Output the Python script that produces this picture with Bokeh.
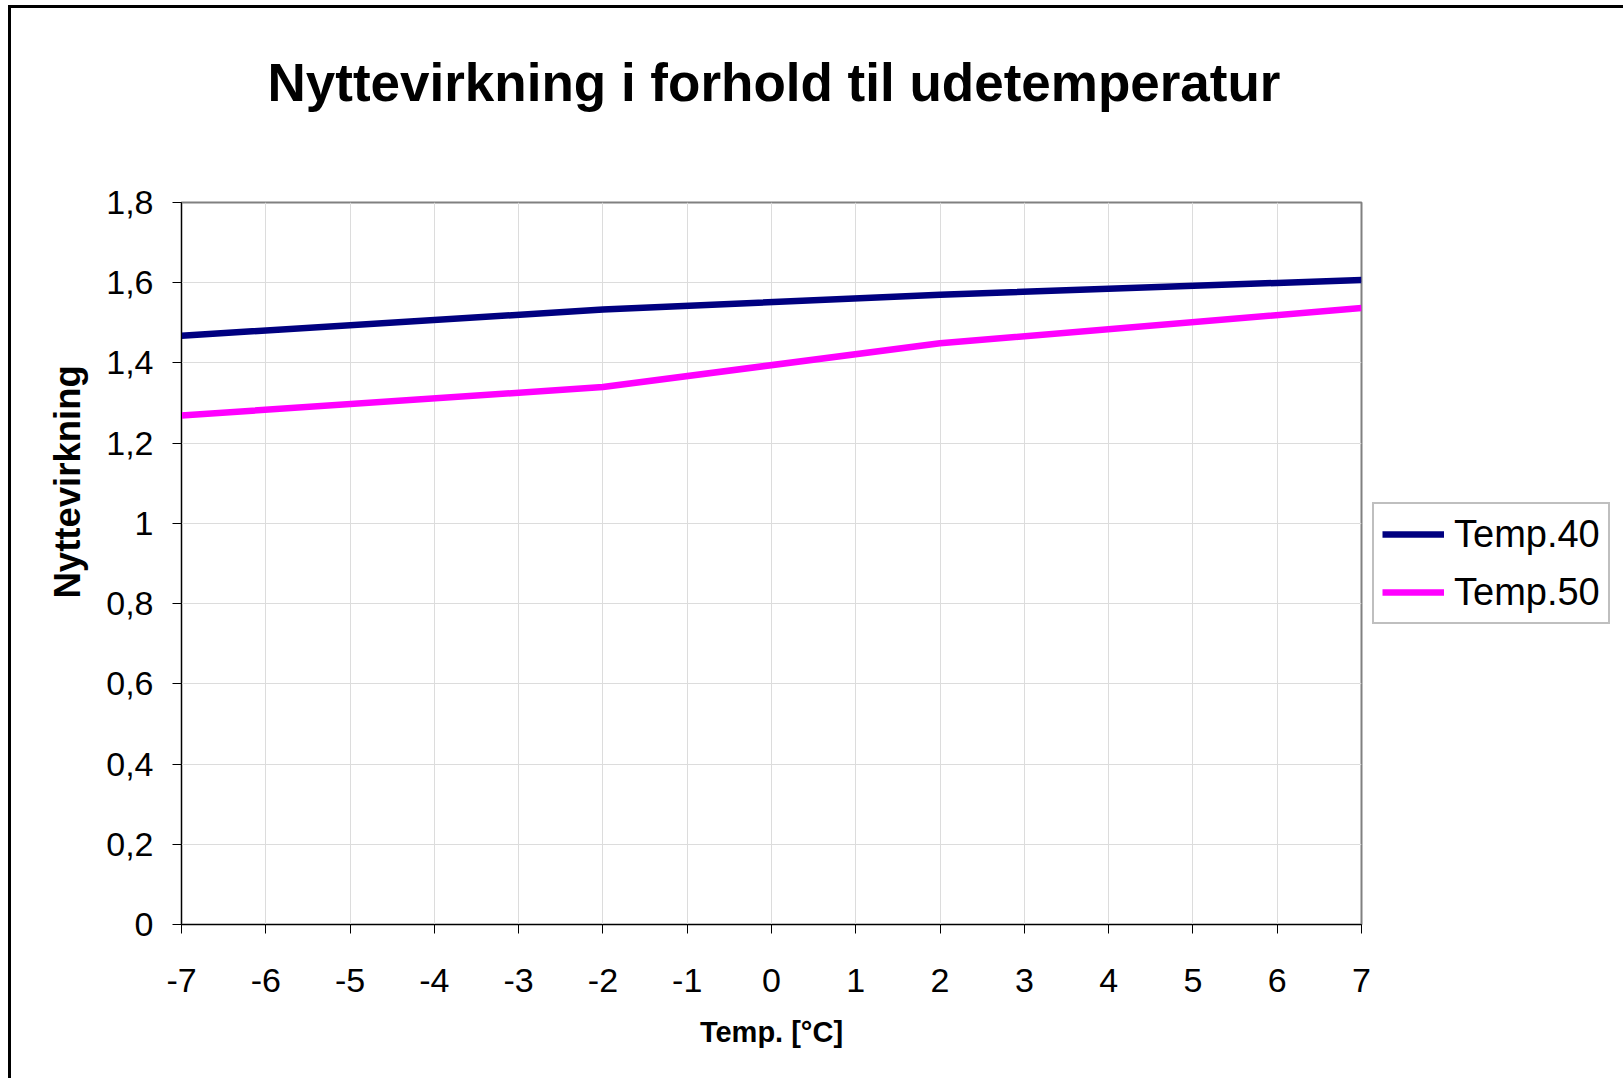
from bokeh.plotting import figure
from bokeh.models import FixedTicker, Legend, LegendItem, Title, Range1d
from bokeh.embed import file_html
from bokeh.resources import INLINE

# data
temps = [-7, -2, 2, 7]
temp40 = [1.468, 1.533, 1.570, 1.607]
temp50 = [1.269, 1.340, 1.449, 1.537]
x_ticks = list(range(-7, 8))
y_ticks = [0, 0.2, 0.4, 0.6, 0.8, 1.0, 1.2, 1.4, 1.6, 1.8]
y_labels = ["0", "0,2", "0,4", "0,6", "0,8", "1", "1,2", "1,4", "1,6", "1,8"]
series_names = ["Temp.40", "Temp.50"]

FONT = "Liberation Sans"

p = figure(frame_width=1180, frame_height=722, output_backend="svg", toolbar_location=None,
           x_range=Range1d(-7, 7), y_range=Range1d(0, 1.8),
           min_border_left=170, min_border_top=194, min_border_right=252, min_border_bottom=154,
           title=None)
p.styles = {"border-left": "3px solid black", "border-top": "3px solid black",
            "margin-left": "8px", "margin-top": "5px"}

p.outline_line_color = "#808080"
p.outline_line_width = 2
p.background_fill_color = "white"
p.border_fill_color = "white"

# grid
p.xgrid.ticker = FixedTicker(ticks=x_ticks)
p.ygrid.ticker = FixedTicker(ticks=y_ticks)
for g in (p.xgrid, p.ygrid):
    g.grid_line_color = "#dcdcdc"
    g.grid_line_width = 1

# axes
p.xaxis.ticker = FixedTicker(ticks=x_ticks)
p.yaxis.ticker = FixedTicker(ticks=y_ticks)
p.yaxis.major_label_overrides = {t: l for t, l in zip(y_ticks, y_labels)}
p.xaxis.major_label_overrides = {t: str(t) for t in x_ticks}
for ax in (p.xaxis, p.yaxis):
    ax.axis_line_color = "black"
    ax.axis_line_width = 1
    ax.major_tick_line_color = "black"
    ax.major_tick_out = 9
    ax.major_tick_in = 0
    ax.minor_tick_line_color = None
    ax.major_label_text_font = FONT
    ax.major_label_text_font_size = "34px"
    ax.major_label_text_color = "black"
p.xaxis.major_label_standoff = 35
p.yaxis.major_label_standoff = 19

p.xaxis.axis_label = "Temp. [°C]"
p.xaxis.axis_label_text_font = FONT
p.xaxis.axis_label_text_font_style = "bold"
p.xaxis.axis_label_text_font_size = "29px"
p.xaxis.axis_label_text_color = "black"
p.xaxis.axis_label_standoff = 21

# lines
r1 = p.line(temps, temp40, line_color="#000080", line_width=6.5)
r2 = p.line(temps, temp50, line_color="#FF00FF", line_width=6.5)

# titles (spacer first: nearest to the frame)
spacer = Title(text=" ", text_font_size="1px", standoff=83)
p.add_layout(spacer, "above")
t = Title(text="Nyttevirkning i forhold til udetemperatur", align="left", offset=86,
          text_font=FONT, text_font_style="bold", text_font_size="53px",
          text_color="black", standoff=10)
p.add_layout(t, "above")

yl = Title(text="Nyttevirkning", align="left", offset=326,
           text_font=FONT, text_font_style="bold", text_font_size="36.5px",
           text_color="black", standoff=32)
p.add_layout(yl, "left")

legend = Legend(items=[LegendItem(label=series_names[0], renderers=[r1]),
                       LegendItem(label=series_names[1], renderers=[r2])],
                location="left", margin=11, padding=8, spacing=14,
                glyph_width=62, glyph_height=44, label_height=44, label_standoff=10,
                label_text_font=FONT, label_text_font_size="38px",
                label_text_color="black",
                border_line_color="#808080", border_line_width=2,
                background_fill_color="white")
p.add_layout(legend, "right")

open("out.html", "w").write(file_html(p, INLINE))
